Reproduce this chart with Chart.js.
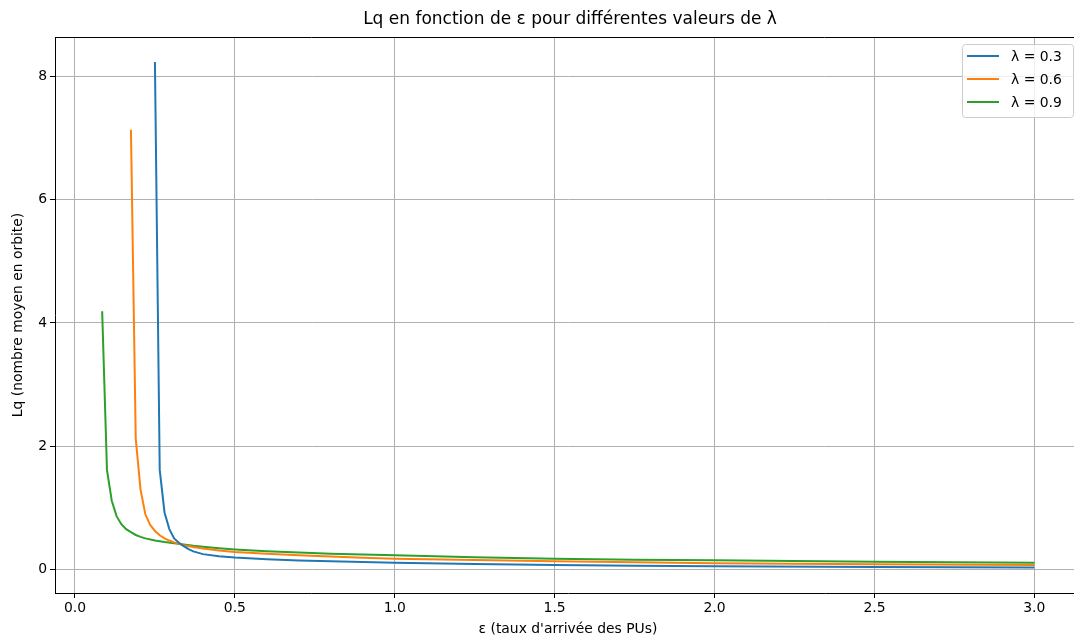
<!DOCTYPE html>
<html lang="fr">
<head>
  <meta charset="UTF-8">
  <title>Lq en fonction de ε</title>
  <script src="https://cdn.jsdelivr.net/npm/chart.js"></script>
  <style>
    html, body { margin: 0; padding: 0; overflow: hidden; background: #fff; }
    canvas { display: block; }
  </style>
</head>
<body>
  <canvas id="lqChart" width="1090" height="642"></canvas>

  <script>
    // valeurs
    const lambdas = ["λ = 0.3", "λ = 0.6", "λ = 0.9"];
    const colors = ["#1f77b4", "#ff7f0e", "#2ca02c"];

    const epsA = [0.250, 0.265, 0.280, 0.295, 0.310, 0.325, 0.340, 0.355, 0.370, 0.400, 0.450, 0.500,
                  0.600, 0.700, 0.800, 0.900, 1.000, 1.250, 1.500, 1.750, 2.000, 2.500, 3.000];
    const lqA  = [8.23, 1.62, 0.93, 0.66, 0.51, 0.44, 0.385, 0.335, 0.30, 0.255, 0.22, 0.20,
                  0.172, 0.152, 0.138, 0.126, 0.117, 0.095, 0.080, 0.068, 0.058, 0.047, 0.040];

    const epsB = [0.175, 0.190, 0.205, 0.220, 0.235, 0.250, 0.265, 0.280, 0.295, 0.310, 0.340, 0.370,
                  0.400, 0.450, 0.500, 0.600, 0.700, 0.800, 0.900, 1.000, 1.250, 1.500, 1.750, 2.000, 2.500, 3.000];
    const lqB  = [7.13, 2.12, 1.30, 0.90, 0.73, 0.63, 0.56, 0.51, 0.475, 0.445, 0.40, 0.37,
                  0.345, 0.315, 0.29, 0.26, 0.235, 0.215, 0.195, 0.18, 0.158, 0.141, 0.122, 0.106, 0.090, 0.078];

    const epsC = [0.085, 0.100, 0.115, 0.130, 0.145, 0.160, 0.175, 0.190, 0.205, 0.220, 0.250, 0.280,
                  0.310, 0.340, 0.370, 0.400, 0.450, 0.500, 0.600, 0.700, 0.800, 0.900, 1.000, 1.250,
                  1.500, 1.750, 2.000, 2.500, 3.000];
    const lqC  = [4.19, 1.62, 1.12, 0.87, 0.74, 0.66, 0.61, 0.565, 0.535, 0.51, 0.475, 0.45,
                  0.43, 0.41, 0.39, 0.375, 0.35, 0.33, 0.30, 0.28, 0.262, 0.247, 0.235, 0.205,
                  0.178, 0.164, 0.154, 0.133, 0.117];

    const xTicks = [0, 0.5, 1.0, 1.5, 2.0, 2.5, 3.0];
    const yTicks = [0, 2, 4, 6, 8];

    const font = "DejaVu Sans";
    const pts = (xs, ys) => xs.map((x, i) => ({ x, y: ys[i] }));

    // titre, cadre du haut et légende façon matplotlib
    const mplDecor = {
      id: "mplDecor",
      afterDatasetsDraw(chart) {
        const { ctx, chartArea: a } = chart;
        ctx.save();
        ctx.strokeStyle = "#000";
        ctx.lineWidth = 1;
        ctx.beginPath();
        ctx.moveTo(a.left, a.top + 0.5);
        ctx.lineTo(a.right, a.top + 0.5);
        ctx.stroke();
        ctx.restore();
      },
      afterDraw(chart) {
        const { ctx, chartArea: a } = chart;
        ctx.save();
        ctx.fillStyle = "#000";
        ctx.font = `17px '${font}'`;
        ctx.textAlign = "center";
        ctx.textBaseline = "middle";
        ctx.fillText("Lq en fonction de ε pour différentes valeurs de λ", (a.left + a.right) / 2 + 2, 20);

        const bw = 111, bh = 73;
        const bx = a.right - 8 - bw, by = a.top + 7;
        ctx.beginPath();
        ctx.roundRect(bx + 0.5, by + 0.5, bw, bh, 3);
        ctx.fillStyle = "rgba(255,255,255,0.8)";
        ctx.fill();
        ctx.strokeStyle = "#cccccc";
        ctx.lineWidth = 1;
        ctx.stroke();

        ctx.font = `13.9px '${font}'`;
        ctx.textAlign = "left";
        chart.data.datasets.forEach((ds, i) => {
          const y = by + 12 + i * 23;
          ctx.strokeStyle = ds.borderColor;
          ctx.lineWidth = 2;
          ctx.beginPath();
          ctx.moveTo(bx + 5, y);
          ctx.lineTo(bx + 37, y);
          ctx.stroke();
          ctx.fillStyle = "#000";
          ctx.fillText(ds.label, bx + 49, y + 1);
        });
        ctx.restore();
      }
    };

    const series = [[epsA, lqA], [epsB, lqB], [epsC, lqC]];

    new Chart(document.getElementById("lqChart").getContext("2d"), {
      type: "line",
      data: {
        datasets: series.map(([xs, ys], i) => ({
          label: lambdas[i],
          data: pts(xs, ys),
          borderColor: colors[i],
          backgroundColor: colors[i],
          borderWidth: 2,
          pointRadius: 0,
          tension: 0,
          fill: false
        }))
      },
      options: {
        responsive: false,
        animation: false,
        layout: { padding: { top: 37, right: 9, left: 0, bottom: 0 } },
        plugins: { legend: { display: false }, title: { display: false }, tooltip: { enabled: false } },
        scales: {
          x: {
            type: "linear",
            min: -0.0625,
            max: 3.146,
            afterBuildTicks: s => { s.ticks = xTicks.map(v => ({ value: v })); },
            afterFit: s => { s.height = 49; },
            grid: { color: "#b0b0b0", lineWidth: 1, tickColor: "#000", tickLength: 5 },
            border: { display: true, color: "#000", width: 1 },
            ticks: {
              color: "#000", padding: 2, maxRotation: 0,
              font: { family: font, size: 13.9 },
              callback: v => Number(v).toFixed(1)
            },
            title: {
              display: true, text: "ε (taux d'arrivée des PUs)", color: "#000",
              font: { family: font, size: 13.9 }, padding: { top: 0, bottom: 4 }
            }
          },
          y: {
            type: "linear",
            min: -0.375,
            max: 8.634,
            afterBuildTicks: s => { s.ticks = yTicks.map(v => ({ value: v })); },
            afterFit: s => { s.width = 55; },
            grid: { color: "#b0b0b0", lineWidth: 1, tickColor: "#000", tickLength: 5 },
            border: { display: true, color: "#000", width: 1 },
            ticks: {
              color: "#000", padding: 3,
              font: { family: font, size: 13.9 },
              callback: v => String(v)
            },
            title: {
              display: true, text: "Lq (nombre moyen en orbite)", color: "#000",
              font: { family: font, size: 13.9 }, padding: { top: 10, bottom: 0 }
            }
          }
        }
      },
      plugins: [mplDecor]
    });
  </script>
</body>
</html>
